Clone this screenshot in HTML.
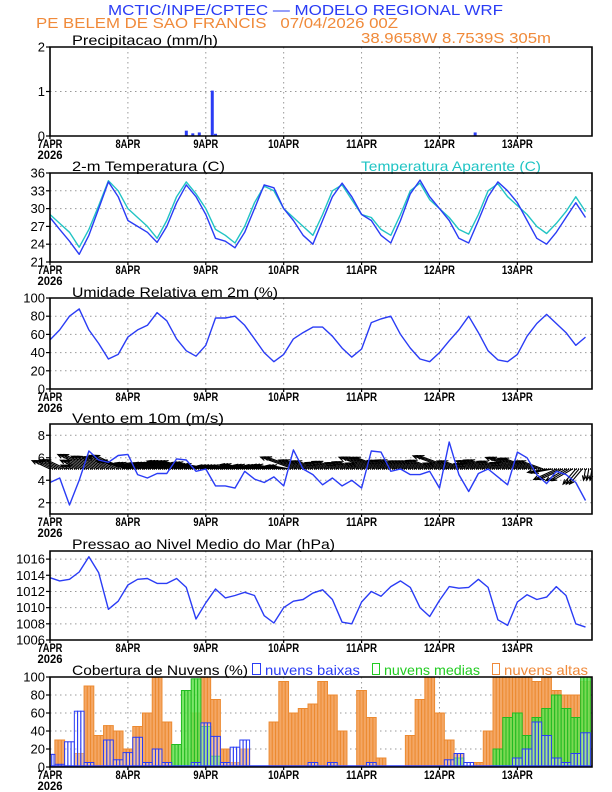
<!DOCTYPE html>
<html><head><meta charset="utf-8"><style>
body{margin:0;background:#fff}
svg{display:block;font-family:"Liberation Sans",sans-serif}
</style></head><body>
<svg id="chart" width="612" height="792" viewBox="0 0 612 792" xmlns="http://www.w3.org/2000/svg">
<text x="108" y="15" font-size="15" fill="#2a3cf5" textLength="395" lengthAdjust="spacingAndGlyphs">MCTIC/INPE/CPTEC — MODELO REGIONAL WRF</text>
<text x="36" y="28" font-size="15" fill="#f08a3a" textLength="362" lengthAdjust="spacingAndGlyphs" xml:space="preserve">PE BELEM DE SAO FRANCIS   07/04/2026 00Z</text>
<text x="361" y="43" font-size="15" fill="#f08a3a" textLength="190" lengthAdjust="spacingAndGlyphs">38.9658W 8.7539S 305m</text>
<text x="72" y="45" font-size="14" textLength="146" lengthAdjust="spacingAndGlyphs">Precipitacao (mm/h)</text>
<text x="72" y="171" font-size="14" textLength="153" lengthAdjust="spacingAndGlyphs">2-m Temperatura (C)</text>
<text x="361" y="171" font-size="14" fill="#20c4c4" textLength="180" lengthAdjust="spacingAndGlyphs">Temperatura Aparente (C)</text>
<text x="72" y="297" font-size="14" textLength="206" lengthAdjust="spacingAndGlyphs">Umidade Relativa em 2m (%)</text>
<text x="72" y="423" font-size="14" textLength="152" lengthAdjust="spacingAndGlyphs">Vento em 10m (m/s)</text>
<text x="72" y="549" font-size="14" textLength="263" lengthAdjust="spacingAndGlyphs">Pressao ao Nivel Medio do Mar (hPa)</text>
<text x="72" y="675" font-size="14" textLength="176" lengthAdjust="spacingAndGlyphs">Cobertura de Nuvens (%)</text>
<rect x="252.5" y="663.5" width="8" height="11" fill="none" stroke="#2a3cf5"/>
<text x="265" y="675" font-size="14" fill="#2a3cf5" textLength="95" lengthAdjust="spacingAndGlyphs">nuvens baixas</text>
<rect x="372.5" y="663.5" width="7" height="11" fill="none" stroke="#22cc22"/>
<text x="384" y="675" font-size="14" fill="#22cc22" textLength="96" lengthAdjust="spacingAndGlyphs">nuvens medias</text>
<rect x="492.5" y="663.5" width="7" height="11" fill="none" stroke="#f08a3a"/>
<text x="504" y="675" font-size="14" fill="#f08a3a" textLength="84" lengthAdjust="spacingAndGlyphs">nuvens altas</text>
</svg>
<script>
// ---- data (3-hourly, hours 0..165) ----
const dayLabels = ["7APR","8APR","9APR","10APR","11APR","12APR","13APR"];
const precipHours = [42,44,46,50,51,82,131,152];
const precipVals = [0.12,0.06,0.08,1.02,0.05,0.01,0.08,0.01];
const tempVals = [28.5,26.5,24.5,22.3,25.5,30,34.5,32,28,27,26,24.3,27,31,34,32,29,25,24.5,23.4,26,30,34,33.5,30,28,25.5,24,28,32,34.3,32,29,28,25.5,24.2,28,32.5,34.8,32,30,28,25,24.2,28,32,34.5,33,31,28,25,24,26,28.5,31,28.5];
const appTempVals = [29,27.5,26,23.5,26.5,30.5,34.7,33,30,28.5,27,25,28,32,34.5,32.5,30,26.5,25.5,24.2,27,31,33.8,33,30,28.5,27,25.5,29,33,34,31.5,29,28.5,26.5,25.5,29,33,34.3,31.5,30,28.5,26.5,25.7,29,33,34.2,32,30.5,29,27,25.8,27.5,29.5,32,29.5];
const rhVals = [54,65,80,88,65,50,33,38,57,65,70,84,75,55,42,36,48,78,78,80,70,55,40,30,38,55,62,68,68,58,45,35,44,73,77,80,60,45,33,30,40,53,65,80,62,42,32,30,38,58,72,82,72,62,48,57];
const windVals = [3.8,4.2,1.8,4,6.6,5.8,5.6,6.2,6.3,4.5,4.2,4.6,4.6,5.9,5.8,4.8,5,3.5,3.5,3.3,4.8,4.1,3.8,4.3,3.5,6.7,5,4.5,3.6,4.2,3.5,4,3.3,6.6,6.5,4.8,5,4.5,4.5,4.8,3.3,7.4,4.5,3,4.6,5,4.3,3.6,6.5,6,4.5,3.7,4.8,4.5,3.8,2.2];
const windDir = [115,115,115,115,115,115,115,115,105,105,105,105,105,105,105,105,100,100,100,100,100,100,100,100,100,110,110,110,110,110,110,110,110,110,110,110,110,110,110,110,110,110,110,110,110,110,110,110,110,110,110,80,65,60,40,10];
const pressVals = [1013.7,1013.3,1013.5,1014.4,1016.3,1014.3,1009.8,1010.8,1012.8,1013.5,1013.6,1013,1013,1013.6,1012.5,1008.6,1010.6,1012.3,1011.2,1011.5,1011.9,1011.5,1009,1008.1,1010,1010.8,1011,1011.8,1012.2,1011,1008.2,1008,1010.7,1012,1011.4,1012.6,1013.3,1012.5,1010,1008.9,1010.9,1012.6,1012.4,1012.5,1013.5,1012.5,1008.5,1007.8,1010.7,1011.6,1011,1011.3,1012.6,1011.5,1008,1007.6];
const cloudHigh = [0,30,0,15,90,35,46,40,20,45,60,100,50,0,0,60,100,75,20,5,20,0,0,50,95,60,65,70,95,80,40,0,85,55,10,0,0,35,75,100,60,30,15,0,5,40,100,100,100,100,95,100,85,80,80,95];
const cloudMid = [0,0,0,0,0,0,0,0,0,0,0,0,0,25,85,98,45,12,0,0,0,0,0,0,0,0,0,0,0,0,0,0,0,0,0,0,0,0,0,0,0,0,10,0,0,0,20,55,60,35,55,65,80,65,55,100];
const cloudLow = [14,3,28,62,5,0,30,8,16,33,5,20,5,0,0,5,49,34,5,22,30,0,0,0,0,0,0,5,0,5,0,0,0,5,0,0,0,0,0,0,0,8,15,5,0,0,0,0,10,20,50,35,10,5,15,38];

const NS="http://www.w3.org/2000/svg";
const svg=document.getElementById('chart');
const X0=50,X1=592,HMAX=167,STEP=3;
function xOf(h){return X0+h*(X1-X0)/HMAX;}
function mk(tag,attrs,parent){const e=document.createElementNS(NS,tag);for(const k in attrs)e.setAttribute(k,attrs[k]);(parent||svg).appendChild(e);return e;}
const panels=[
 {key:'precip',top:47,bot:136,min:0,max:2,ticks:[0,1,2]},
 {key:'temp',top:173,bot:262,min:21,max:36,ticks:[21,24,27,30,33,36]},
 {key:'rh',top:298,bot:389,min:0,max:100,ticks:[0,20,40,60,80,100]},
 {key:'wind',top:424,bot:514,min:1,max:9,ticks:[2,4,6,8]},
 {key:'press',top:551,bot:640,min:1006,max:1017,ticks:[1006,1008,1010,1012,1014,1016]},
 {key:'cloud',top:677,bot:767,min:0,max:100,ticks:[0,20,40,60,80,100]}
];
function yFn(p){return v=>p.bot-(v-p.min)*(p.bot-p.top)/(p.max-p.min);}
panels.forEach(p=>{
 const y=yFn(p);
 const g=mk('g',{});
 
 
 for(let d=1;d<7;d++){
  const l=mk('line',{x1:xOf(d*24),x2:xOf(d*24),y1:p.top,y2:p.bot,stroke:'#999','stroke-dasharray':'1.5,3.5','stroke-width':1},g);
  
  
 }
 p.ticks.forEach(t=>{
  const yy=y(t);
  if(yy>p.top+1&&yy<p.bot-1){
   const l=mk('line',{x1:X0,x2:X1,y1:yy,y2:yy,stroke:'#999','stroke-dasharray':'1.5,3.5','stroke-width':1},g);
   
   
  }
  const tk=mk('line',{x1:X0-4,x2:X0,y1:yy,y2:yy,stroke:'#000','stroke-width':1.2},g);
  
  
  const tx=mk('text',{x:X0-5,y:yy+4.5,'font-size':13,'text-anchor':'end'},g);
  tx.textContent=t;
  
  
 });
 dayLabels.forEach((lab,d)=>{
  const xx=xOf(d*24);
  const tk=mk('line',{x1:xx,x2:xx,y1:p.bot,y2:p.bot+3,stroke:'#000','stroke-width':1.2},g);
  
  
  const tx=mk('text',{x:xx,y:p.bot+12,'font-size':12,'font-weight':'bold','text-anchor':'middle',textLength:lab.length*6.2,lengthAdjust:'spacingAndGlyphs'},g);
  tx.textContent=lab;
  
  
 });
 const yr=mk('text',{x:X0,y:p.bot+23,'font-size':12,'font-weight':'bold','text-anchor':'middle',textLength:25,lengthAdjust:'spacingAndGlyphs'},g);
 yr.textContent='2026';
 
 
 p.y=y;p.g=g;
});
function line(vals,p,color,name){
 const pts=vals.map((v,i)=>xOf(i*STEP).toFixed(1)+','+p.y(v).toFixed(1)).join(' ');
 const e=mk('polyline',{points:pts,fill:'none',stroke:color,'stroke-width':1.4,'stroke-linejoin':'round'});
 
 
}
precipHours.forEach((h,i)=>{
 const p=panels[0];
 const r=mk('rect',{x:xOf(h)-1.5,y:p.y(precipVals[i]),width:3,height:p.bot-p.y(precipVals[i]),fill:'#2a3cf5'});
 
 
});
line(appTempVals,panels[1],'#22c4c4','apparent-temp-line');
line(tempVals,panels[1],'#2a3cf5','temp-line');
line(rhVals,panels[2],'#2a3cf5','rh-line');
// wind arrows (each 3h value rendered as 3 hourly strokes)
(function(){
 const p=panels[3],yb=p.y(5),k=5.2;
 windVals.forEach((s,i)=>{
  const a=windDir[i]*Math.PI/180;
  const u=-Math.sin(a)*s*k,v=-Math.cos(a)*s*k;
  for(let j=0;j<3;j++){
   const x=xOf(i*STEP+j);
   if(x>X1)continue;
   const x2=x+u,y2=yb-v;
   const ang=Math.atan2(y2-yb,x2-x);
   const hx1=x2-5*Math.cos(ang-0.4),hy1=y2-5*Math.sin(ang-0.4);
   const hx2=x2-5*Math.cos(ang+0.4),hy2=y2-5*Math.sin(ang+0.4);
   const ar=mk('path',{d:`M${x},${yb}L${x2},${y2}M${hx1},${hy1}L${x2},${y2}L${hx2},${hy2}`,stroke:'#000','stroke-width':1.1,fill:'none'});
   
   
  }
 });
 const bl=mk('line',{x1:X0,x2:X1,y1:yb,y2:yb,stroke:'#000','stroke-width':1.5,'stroke-dasharray':'1,1'});
 
 
})();
line(windVals,panels[3],'#2a3cf5','wind-speed-line');
line(pressVals,panels[4],'#2a3cf5','pressure-line');
// clouds (each 3h value rendered as 3 hourly bars)
(function(){
 const p=panels[5],w=(X1-X0)/HMAX;
 function bars(vals,fill,stroke,name,fo){
  vals.forEach((v,i)=>{
   if(v<=0)return;
   for(let j=-1;j<=1;j++){
    const h=i*STEP+j;
    if(h<0||h>HMAX)continue;
    const x=xOf(h)-w/2;
    const xs=Math.max(X0,x),ww=Math.min(w,X1-xs);
    if(ww<=0)continue;
    const r=mk('rect',{x:xs,y:p.y(v),width:ww,height:p.bot-p.y(v),fill:fill,'fill-opacity':fo,stroke:stroke,'stroke-width':1});
    
    
   }
  });
 }
 bars(cloudHigh,'#f4a765','#ec8a30','cloud-high-bar',1);
 bars(cloudMid,'#66e050','#22bb22','cloud-mid-bar',0.85);
 bars(cloudLow,'#ffffff','#2a3cf5','cloud-low-bar',0.3);
 const bl=mk('line',{x1:X0,x2:X1,y1:p.bot-1,y2:p.bot-1,stroke:'#2a3cf5','stroke-width':1.5});
 
 
})();
panels.forEach(p=>{
 const f=mk('path',{d:`M${X0},${p.top}H${X1}V${p.bot}H${X0}Z`,fill:'none',stroke:'#000','stroke-width':1.6});
 
 
});
</script>
</body></html>
